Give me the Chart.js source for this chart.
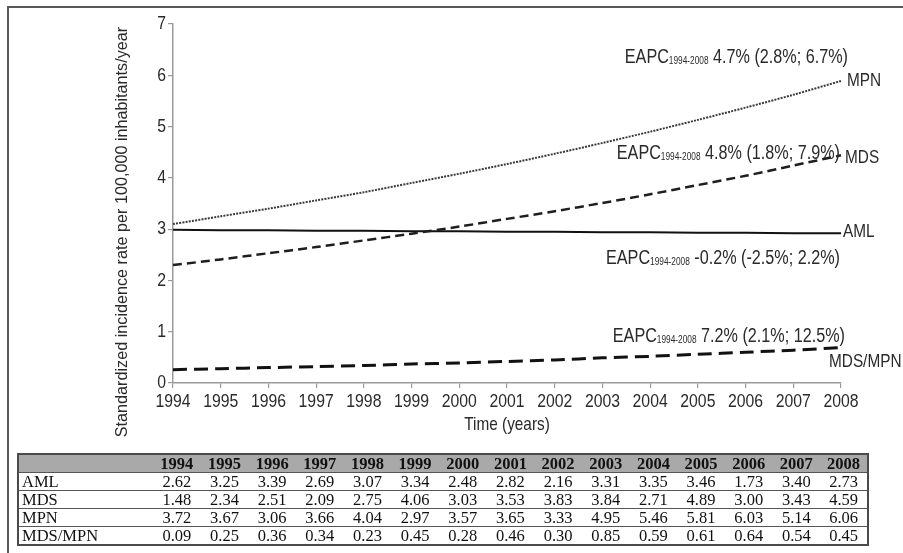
<!DOCTYPE html>
<html>
<head>
<meta charset="utf-8">
<script src="https://cdn.jsdelivr.net/npm/chart.js@4/dist/chart.umd.min.js"></script>
<style>
  html, body { margin: 0; padding: 0; background: #fff; }
  #wrap { position: relative; width: 903px; height: 553px; overflow: hidden; }
  #frame { position: absolute; left: 7px; top: 6px; width: 1000px; height: 600px;
           border-left: 2px solid #5a5a5a; border-top: 2px solid #5a5a5a; }
  canvas { position: absolute; left: 0; top: 0; }
  #tbl { position: absolute; left: 17px; top: 453px; width: 852px; border-collapse: collapse;
         table-layout: fixed; font-family: 'Liberation Serif', 'DejaVu Serif', serif; font-size: 16.5px;
         color: #111; border: 2px solid #4a4a4a; }
  #tbl td, #tbl th { padding: 0; height: 17px; line-height: 17px; text-align: center;
         border-bottom: 1.5px solid #555; white-space: nowrap; }
  #tbl th { background: #a9a9a9; font-weight: bold; }
  #tbl td.lab { text-align: left; padding-left: 3px; }
</style>
</head>
<body>
<div id="wrap">
  <div id="frame"></div>
  <canvas id="c" width="903" height="553"></canvas>
  <table id="tbl"></table>
</div>
<script>
// ---- Data ----
const years = ['1994','1995','1996','1997','1998','1999','2000','2001','2002','2003','2004','2005','2006','2007','2008'];

// Fitted trend curves
const amlTrend    = [2.99, 2.98, 2.98, 2.97, 2.97, 2.96, 2.96, 2.95, 2.95, 2.94, 2.94, 2.93, 2.93, 2.92, 2.92];
const mdsTrend    = [2.30, 2.41, 2.53, 2.65, 2.78, 2.91, 3.05, 3.20, 3.35, 3.51, 3.68, 3.86, 4.04, 4.24, 4.44];
const mpnTrend    = [3.10, 3.25, 3.40, 3.56, 3.72, 3.90, 4.08, 4.27, 4.47, 4.68, 4.90, 5.13, 5.37, 5.62, 5.89];
const mdsMpnTrend = [0.26, 0.28, 0.30, 0.32, 0.34, 0.37, 0.39, 0.42, 0.45, 0.49, 0.52, 0.56, 0.60, 0.64, 0.69];

// Observed rates (table)
const tableRows = ['AML', 'MDS', 'MPN', 'MDS/MPN'];
const amlRates    = ['2.62','3.25','3.39','2.69','3.07','3.34','2.48','2.82','2.16','3.31','3.35','3.46','1.73','3.40','2.73'];
const mdsRates    = ['1.48','2.34','2.51','2.09','2.75','4.06','3.03','3.53','3.83','3.84','2.71','4.89','3.00','3.43','4.59'];
const mpnRates    = ['3.72','3.67','3.06','3.66','4.04','2.97','3.57','3.65','3.33','4.95','5.46','5.81','6.03','5.14','6.06'];
const mdsMpnRates = ['0.09','0.25','0.36','0.34','0.23','0.45','0.28','0.46','0.30','0.85','0.59','0.61','0.64','0.54','0.45'];

// EAPC annotations
const eapcSub = '1994-2008';
const eapcMPN    = '4.7% (2.8%; 6.7%)';
const eapcMDS    = '4.8% (1.8%; 7.9%)';
const eapcAML    = '-0.2% (-2.5%; 2.2%)';
const eapcMDSMPN = '7.2% (2.1%; 12.5%)';

const yTicks = [0, 1, 2, 3, 4, 5, 6, 7];

// ---- Table ----
(function buildTable() {
  const t = document.getElementById('tbl');
  let html = '<colgroup><col style="width:135px">';
  years.forEach(() => html += '<col>');
  html += '</colgroup><tr><th></th>';
  years.forEach(y => html += '<th>' + y + '</th>');
  html += '</tr>';
  const sets = [amlRates, mdsRates, mpnRates, mdsMpnRates];
  tableRows.forEach((name, i) => {
    html += '<tr><td class="lab">' + name + '</td>';
    sets[i].forEach(v => html += '<td>' + v + '</td>');
    html += '</tr>';
  });
  t.innerHTML = html;
})();

// ---- Chart ----
const SANS = "'Liberation Sans', Arial, sans-serif";
const SQ = 0.83;           // horizontal squeeze to imitate a condensed face
const TXT = '#2a2a2a';

function narrowText(ctx, text, x, y, size, align, baseline) {
  ctx.save();
  ctx.translate(x, y);
  ctx.scale(SQ, 1);
  ctx.font = size + 'px ' + SANS;
  ctx.textAlign = align || 'left';
  ctx.textBaseline = baseline || 'middle';
  ctx.fillText(text, 0, 0);
  ctx.restore();
}
function narrowWidth(ctx, text, size) {
  ctx.save();
  ctx.font = size + 'px ' + SANS;
  const w = ctx.measureText(text).width * SQ;
  ctx.restore();
  return w;
}

const labelPlugin = {
  id: 'labels',
  afterDraw(chart) {
    const ctx = chart.ctx;
    const xs = chart.scales.x, ys = chart.scales.y, ca = chart.chartArea;
    const last = years.length - 1;
    const xEnd = xs.getPixelForValue(last);
    ctx.save();
    ctx.fillStyle = TXT;

    // tick labels
    xs.ticks.forEach((t, i) => {
      narrowText(ctx, xs.getLabelForValue(t.value), xs.getPixelForTick(i), ca.bottom + 19, 19, 'center');
    });
    ys.ticks.forEach(t => {
      narrowText(ctx, String(t.value), ca.left - 7, ys.getPixelForValue(t.value), 19, 'right');
    });

    // axis titles
    narrowText(ctx, 'Time (years)', (ca.left + ca.right) / 2, ca.bottom + 42, 18.5, 'center');
    ctx.save();
    ctx.translate(ca.left - 50, ca.bottom - 151);
    ctx.rotate(-Math.PI / 2);
    ctx.font = '16.2px ' + SANS;
    ctx.textAlign = 'center';
    ctx.textBaseline = 'middle';
    ctx.fillText('Standardized incidence rate per 100,000 inhabitants/year', 0, 0);
    ctx.restore();

    // series end labels
    narrowText(ctx, 'MPN', xEnd + 6, ys.getPixelForValue(mpnTrend[last]), 18.5);
    narrowText(ctx, 'MDS', xEnd + 4, ys.getPixelForValue(mdsTrend[last]) + 3, 18.5);
    narrowText(ctx, 'AML', xEnd + 2, ys.getPixelForValue(amlTrend[last]) - 1, 18.5);
    narrowText(ctx, 'MDS/MPN', xEnd - 12, ys.getPixelForValue(mdsMpnTrend[last]) + 14, 18.5);

    // EAPC annotations (right aligned)
    function eapc(text, right, yVal) {
      const base = ys.getPixelForValue(yVal) + 7;
      const w1 = narrowWidth(ctx, 'EAPC', 19.5);
      const w2 = narrowWidth(ctx, eapcSub, 10);
      const w3 = narrowWidth(ctx, ' ' + text, 19.5);
      let x = right - (w1 + w2 + w3);
      narrowText(ctx, 'EAPC', x, base, 19.5, 'left', 'alphabetic'); x += w1;
      narrowText(ctx, eapcSub, x, base + 1, 10, 'left', 'alphabetic'); x += w2;
      narrowText(ctx, ' ' + text, x, base, 19.5, 'left', 'alphabetic');
    }
    eapc(eapcMPN, xEnd + 7, 6.37);
    eapc(eapcMDS, xEnd - 1, 4.5);
    eapc(eapcAML, xEnd - 1, 2.46);
    eapc(eapcMDSMPN, xEnd + 4, 0.94);
    ctx.restore();
  }
};

new Chart(document.getElementById('c'), {
  type: 'line',
  data: {
    labels: years,
    datasets: [
      { label: 'MPN', data: mpnTrend, borderColor: '#3a3a3a', borderWidth: 2, borderDash: [2, 1.2], pointRadius: 0, tension: 0.3, fill: false },
      { label: 'MDS', data: mdsTrend, borderColor: '#1e1e1e', borderWidth: 2.5, borderDash: [9, 5], pointRadius: 0, tension: 0.3, fill: false },
      { label: 'AML', data: amlTrend, borderColor: '#111', borderWidth: 2, pointRadius: 0, tension: 0.3, fill: false },
      { label: 'MDS/MPN', data: mdsMpnTrend, borderColor: '#111', borderWidth: 3, borderDash: [14, 7], pointRadius: 0, tension: 0.3, fill: false }
    ]
  },
  options: {
    responsive: false,
    animation: false,
    devicePixelRatio: 1,
    layout: { padding: { left: 0, top: 24, right: 62, bottom: 122 } },
    plugins: { legend: { display: false }, tooltip: { enabled: false } },
    scales: {
      x: {
        offset: false,
        grid: { display: true, drawOnChartArea: false, tickLength: 5, color: '#9a9a9a', lineWidth: 1.2 },
        border: { color: '#9a9a9a', width: 1.5 },
        ticks: { display: false, autoSkip: false, maxRotation: 0 },
        afterFit(s) { s.height = 48; }
      },
      y: {
        min: 0, max: 7,
        afterBuildTicks(s) { s.ticks = yTicks.map(v => ({ value: v })); },
        grid: { display: true, drawOnChartArea: false, tickLength: 5, color: '#9a9a9a', lineWidth: 1.2 },
        border: { color: '#9a9a9a', width: 1.5 },
        ticks: { display: false },
        afterFit(s) { s.width = 173; }
      }
    }
  },
  plugins: [labelPlugin]
});
</script>
</body>
</html>
